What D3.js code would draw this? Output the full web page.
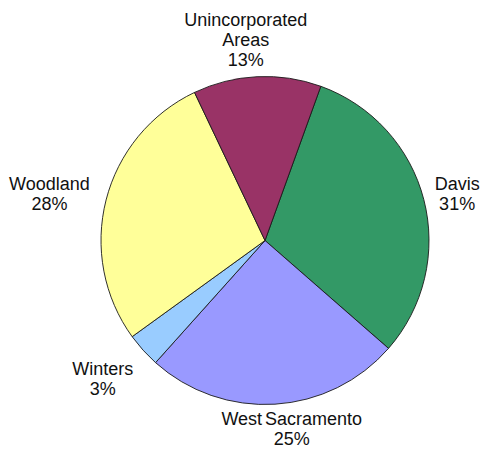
<!DOCTYPE html>
<html><head><meta charset="utf-8">
<script src="https://cdn.jsdelivr.net/npm/d3@7"></script>
<style>body{margin:0;background:#fff}svg{display:block}</style>
</head><body>
<svg id="c" width="481" height="449"></svg>
<script>
const categories = ["Davis", "West Sacramento", "Winters", "Woodland", "Unincorporated Areas"];
const values = [30.9, 25.2, 3.4, 27.9, 12.6];
const percentLabels = ["31%", "25%", "3%", "28%", "13%"];
const labelLines = [["Davis"], ["West Sacramento"], ["Winters"], ["Woodland"], ["Unincorporated", "Areas"]];
const colors = ["#339966", "#9999FF", "#99CCFF", "#FFFF99", "#993366"];

const svg = d3.select("#c");
const cx = 265, cy = 240.5, r = 164;
const startDeg = 19.9;
const pie = d3.pie().sort(null).value(d => d)
  .startAngle(startDeg * Math.PI / 180).endAngle((startDeg + 360) * Math.PI / 180);
const arcs = pie(values);
const arc = d3.arc().innerRadius(0).outerRadius(r);
const g = svg.append("g").attr("transform", `translate(${cx},${cy})`);
g.selectAll("path").data(arcs).join("path")
  .attr("d", arc)
  .attr("fill", (d, i) => colors[i])
  .attr("stroke", "#1a1a1a")
  .attr("stroke-width", 0.9)
  .attr("stroke-linejoin", "round");

const fs = 18, lh = 20;
const gapByIdx = [14, 7, 24, 16, 6];
const nudge = [[-2, 4], [12, -1], [0, 0], [-2, 4], [-8, 0]];
arcs.forEach((d, i) => {
  const a = (d.startAngle + d.endAngle) / 2;
  const s = Math.sin(a), c = -Math.cos(a);
  const lines = labelLines[i].concat([percentLabels[i]]);
  const t = g.append("text")
    .attr("font-family", "Liberation Sans, Arial, sans-serif")
    .attr("font-size", fs).attr("fill", "#111").attr("text-anchor", "middle")
    .attr("word-spacing", -2);
  lines.forEach((ln, k) => t.append("tspan").attr("x", 0).attr("y", k * lh).text(ln));
  const bb = t.node().getBBox();
  const w = bb.width, h = lines.length * lh;
  const R = r + gapByIdx[i];
  const px = R * s + s * w / 2 + nudge[i][0];
  const py = R * c + c * h / 2 + nudge[i][1];
  t.attr("transform", `translate(${px},${py - h / 2 + 15})`);
});
</script>
</body></html>
